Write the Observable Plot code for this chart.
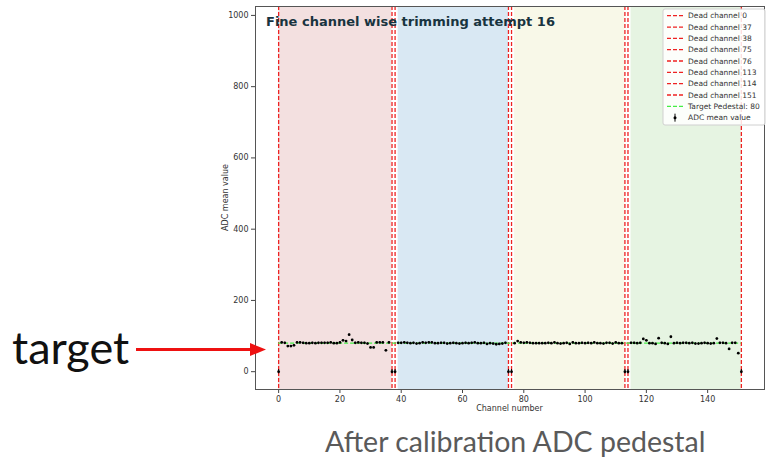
<!DOCTYPE html>
<html><head><meta charset="utf-8">
<script src="https://cdn.jsdelivr.net/npm/d3@7"></script>
<script src="https://cdn.jsdelivr.net/npm/@observablehq/plot@0.6"></script>
<style>body{margin:0;background:#fff}#c{position:relative;width:768px;height:461px}</style>
</head><body><div id="c"></div>
<script>
const deadChannels = [0, 37, 38, 75, 76, 113, 114, 151];
const targetPedestal = 80;
const adcMean = [
  0,
  82,81,72,72,74,82,82,81,80,80,81,80,81,81,81,81,82,80,80,82,88,86,104,89,81,82,81,81,79,68,68,82,82,82,60,82,
  0, 0,
  81,81,82,81,80,81,79,80,82,81,82,82,80,80,81,81,79,80,81,80,79,80,81,80,81,82,80,80,81,78,80,79,77,78,79,81,
  0, 0,
  80,86,82,81,82,81,80,80,80,80,80,81,80,82,80,79,80,81,78,82,80,80,81,80,81,80,82,80,80,79,81,81,79,82,80,80,
  0, 0,
  81,81,80,81,92,88,80,80,78,94,81,80,78,98,80,81,80,81,81,80,81,79,79,80,81,80,79,80,93,81,81,80,64,81,81,52,
  0
];
const deadErr = 6, liveErr = 1.5;
const spanStart = [0, 39, 77, 115];
const spanEnd = [37, 75, 113, 151];
const spanColors = ["#f3e0e0", "#d9e8f3", "#f8f8e8", "#e6f4e2"];
const xTicks = [0, 20, 40, 60, 80, 100, 120, 140];
const yTicks = [0, 200, 400, 600, 800, 1000];
const legendLabels = [...deadChannels.map(c => "Dead channel " + c), "Target Pedestal: " + targetPedestal, "ADC mean value"];

const points = adcMean.map((v, i) => ({ch: i, v, e: deadChannels.includes(i) ? deadErr : liveErr}));
const spans = spanStart.map((s, i) => ({s, e: spanEnd[i], c: spanColors[i]}));

const W = 768, H = 461;
const chart = Plot.plot({
  width: W, height: H,
  marginLeft: 255, marginRight: 4, marginTop: 6, marginBottom: 72,
  style: {fontFamily: "DejaVu Sans", fontSize: "8px", background: "white", color: "#333"},
  x: {domain: [-7.55, 158.55], ticks: xTicks},
  y: {domain: [-50, 1025], ticks: yTicks},
  marks: [
    Plot.rect(spans, {x1: "s", x2: "e", fill: "c"}),
    Plot.ruleX(deadChannels, {stroke: "#ee2222", strokeWidth: 1.3, strokeDasharray: "4,2"}),
    Plot.ruleY([targetPedestal], {x1: 0, x2: 151, stroke: "#44ee44", strokeWidth: 1.3, strokeDasharray: "4,2"}),
    Plot.ruleX(points, {x: "ch", y1: d => d.v - d.e, y2: d => d.v + d.e, stroke: "black", strokeWidth: 1}),
    Plot.dot(points, {x: "ch", y: "v", r: 1.4, fill: "black", stroke: "none"}),
    Plot.axisX({ticks: xTicks, tickFormat: d => String(d), tickSize: 4, tickPadding: 3, label: null, fontSize: 8, stroke: "#444"}),
    Plot.axisY({ticks: yTicks, tickFormat: d => String(d), tickSize: 4, tickPadding: 3, label: null, fontSize: 8, stroke: "#444"}),
    Plot.frame({stroke: "#555", strokeWidth: 1})
  ]
});
document.getElementById("c").appendChild(chart);

const svg = d3.select(chart);
svg.attr("style", (svg.attr("style") || "") + ";overflow:visible");
// title inside plot
svg.append("text").attr("x", 266).attr("y", 25.5).attr("text-anchor", "start").text("Fine channel wise trimming attempt 16")
  .attr("font-family", "DejaVu Sans").attr("font-weight", "bold").attr("font-size", 13).attr("fill", "#18343f");
// axis labels
svg.append("text").attr("x", 509.5).attr("y", 411).attr("text-anchor", "middle").text("Channel number")
  .attr("font-family", "DejaVu Sans").attr("font-size", 8).attr("fill", "#333");
svg.append("text").attr("transform", "translate(228,197.5) rotate(-90)").attr("text-anchor", "middle").text("ADC mean value")
  .attr("font-family", "DejaVu Sans").attr("font-size", 8).attr("fill", "#333");
// legend
const lg = svg.append("g");
lg.append("rect").attr("x", 663).attr("y", 9).attr("width", 102).attr("height", 116).attr("rx", 2)
  .attr("fill", "white").attr("fill-opacity", 0.85).attr("stroke", "#d0d0d0");
legendLabels.forEach((lab, i) => {
  const y = 15.7 + i * 11.33;
  if (i < deadChannels.length + 1) {
    lg.append("line").attr("x1", 667).attr("x2", 683).attr("y1", y).attr("y2", y)
      .attr("stroke", i < deadChannels.length ? "#ee2222" : "#44ee44").attr("stroke-width", 1.3).attr("stroke-dasharray", "4,2");
  } else {
    lg.append("line").attr("x1", 675).attr("x2", 675).attr("y1", y - 4).attr("y2", y + 4).attr("stroke", "black").attr("stroke-width", 1);
    lg.append("circle").attr("cx", 675).attr("cy", y).attr("r", 1.5).attr("fill", "black");
  }
  lg.append("text").attr("x", 688).attr("y", y).attr("dy", "0.35em").attr("text-anchor", "start").text(lab)
    .attr("font-family", "DejaVu Sans").attr("font-size", 7.5).attr("fill", "#333");
});
// annotation outside the plot
svg.append("text").attr("x", 12).attr("y", 364).attr("text-anchor", "start").text("target")
  .attr("font-family", "Lato").attr("font-size", 45).attr("fill", "#111");
svg.append("line").attr("x1", 136).attr("x2", 252).attr("y1", 349.5).attr("y2", 349.5).attr("stroke", "#ee1111").attr("stroke-width", 3);
svg.append("path").attr("d", "M250,343 L266,349.5 L250,356 Z").attr("fill", "#ee1111");
svg.append("text").attr("x", 325).attr("y", 452).attr("text-anchor", "start").text("After calibration ADC pedestal")
  .attr("font-family", "Lato").attr("font-size", 28.5).attr("fill", "#5a5a5a");
</script></body></html>
